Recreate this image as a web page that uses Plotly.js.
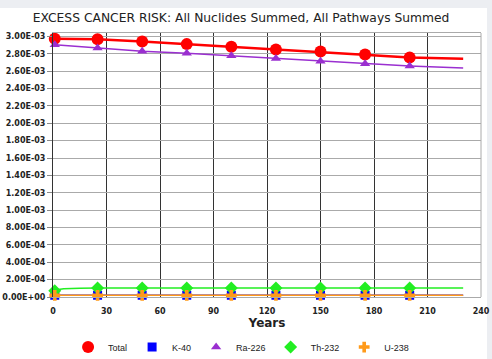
<!DOCTYPE html>
<html>
<head>
<meta charset="utf-8">
<script src="https://cdn.plot.ly/plotly-3.0.1.min.js"></script>
<style>
  html, body { margin: 0; padding: 0; background: #eceef2; width: 492px; height: 359px; overflow: hidden; }
  #bg { position: absolute; left: 0; top: 8px; width: 487px; height: 351px; background: #fff; }
  #chart { position: absolute; left: 0; top: 8px; width: 492px; height: 351px; }
</style>
</head>
<body>
<div id="bg"></div>
<div id="chart"></div>
<script>
// Years at which values are read
const yearsTotal = [1, 25, 50, 75, 100, 125, 150, 175, 200, 230];
const total      = [2.975e-3, 2.969e-3, 2.943e-3, 2.912e-3, 2.882e-3, 2.851e-3, 2.826e-3, 2.793e-3, 2.759e-3, 2.744e-3];

const yearsRa = [1, 25, 50, 75, 100, 125, 150, 175, 200, 230];
const ra226   = [2.905e-3, 2.866e-3, 2.831e-3, 2.808e-3, 2.778e-3, 2.747e-3, 2.716e-3, 2.685e-3, 2.659e-3, 2.636e-3];

const yearsTh = [1, 3, 6, 10, 15, 25, 50, 75, 100, 125, 150, 175, 200, 230];
const th232   = [7.2e-5, 8.6e-5, 9.5e-5, 1.0e-4, 1.02e-4, 1.04e-4, 1.05e-4, 1.05e-4, 1.05e-4, 1.05e-4, 1.05e-4, 1.05e-4, 1.05e-4, 1.05e-4];

const yearsK = [1, 25, 50, 75, 100, 125, 150, 175, 200, 230];
const k40    = [2.0e-5, 2.0e-5, 2.0e-5, 2.0e-5, 2.0e-5, 2.0e-5, 2.0e-5, 2.0e-5, 2.0e-5, 2.0e-5];

const yearsU = [1, 25, 50, 75, 100, 125, 150, 175, 200, 230];
const u238   = [1.9e-5, 1.9e-5, 1.9e-5, 1.9e-5, 1.9e-5, 1.9e-5, 1.9e-5, 1.9e-5, 1.9e-5, 1.9e-5];

// Years that carry a marker
const markerYears = [1, 25, 50, 75, 100, 125, 150, 175, 200];

const yTickVals = [0, 2e-4, 4e-4, 6e-4, 8e-4, 1e-3, 1.2e-3, 1.4e-3, 1.6e-3, 1.8e-3, 2e-3, 2.2e-3, 2.4e-3, 2.6e-3, 2.8e-3, 3e-3];
const yTickText = ["0.00E+00","2.00E-04","4.00E-04","6.00E-04","8.00E-04","1.00E-03","1.20E-03","1.40E-03","1.60E-03","1.80E-03","2.00E-03","2.20E-03","2.40E-03","2.60E-03","2.80E-03","3.00E-03"];
const xTickVals = [0, 30, 60, 90, 120, 150, 180, 210, 240];

const series = [
  {name: "Total",  x: yearsTotal, y: total, color: "#ff0000", width: 2.5, symbol: "circle", size: 12},
  {name: "K-40",   x: yearsK,  y: k40,   color: "#0000ff", width: 1.5, symbol: "square", size: 9},
  {name: "Ra-226", x: yearsRa, y: ra226, color: "#9a2fd0", width: 1.5, symbol: "triangle-up", size: 9},
  {name: "Th-232", x: yearsTh, y: th232, color: "#22ee22", width: 1.5, symbol: "diamond", size: 10},
  {name: "U-238",  x: yearsU,  y: u238,  color: "#ff9a1a", width: 1.5, symbol: "cross", size: 9}
];

const traces = [];
series.forEach(s => {
  traces.push({
    type: "scatter", mode: "lines", x: s.x, y: s.y, name: s.name,
    line: {color: s.color, width: s.width}, showlegend: false, hoverinfo: "skip",
    cliponaxis: false
  });
});
series.forEach(s => {
  const mx = [], my = [];
  s.x.forEach((xv, i) => { if (markerYears.indexOf(xv) >= 0) { mx.push(xv); my.push(s.y[i]); } });
  traces.push({
    type: "scatter", mode: "markers", x: mx, y: my, name: s.name,
    marker: {color: s.color, symbol: s.symbol, size: s.size, line: {width: 0}},
    showlegend: true, cliponaxis: false
  });
});

const layout = {
  width: 492, height: 351,
  margin: {l: 53, r: 11, t: 25, b: 62},
  paper_bgcolor: "rgba(0,0,0,0)", plot_bgcolor: "#ffffff",
  font: {family: "DejaVu Sans, Verdana, sans-serif", color: "#222"},
  title: {
    text: "EXCESS CANCER RISK: All Nuclides Summed, All Pathways Summed",
    font: {size: 12.3, color: "#222"},
    x: 0.49, xref: "container", xanchor: "center",
    y: 0.972, yref: "container", yanchor: "middle"
  },
  xaxis: {
    range: [0, 240], tickvals: xTickVals, ticktext: xTickVals.map(String),
    showgrid: true, gridcolor: "#333", gridwidth: 1,
    zeroline: false, showline: true, linecolor: "#aaa", mirror: true,
    ticks: "outside", ticklen: 6, tickcolor: "rgba(0,0,0,0)",
    tickfont: {size: 8, weight: "bold", color: "#222"},
    title: {text: "Years", font: {size: 12, weight: "bold", color: "#222"}, standoff: 2}
  },
  yaxis: {
    range: [0, 3.04e-3], tickvals: yTickVals, ticktext: yTickText,
    showgrid: true, gridcolor: "#aaa", gridwidth: 1,
    zeroline: false, showline: true, linecolor: "#333",
    ticks: "outside", ticklen: 5, tickcolor: "#888",
    tickfont: {size: 8, weight: "bold", color: "#222"}
  },
  shapes: [
    {type: "line", xref: "paper", yref: "paper", x0: 1, x1: 1, y0: 0, y1: 1, line: {color: "#aaa", width: 1}, layer: "above"}
  ],
  legend: {
    orientation: "h", xref: "container", x: 0.49, xanchor: "center",
    yref: "container", y: 0.034, yanchor: "middle",
    font: {size: 9, family: "Liberation Sans, Arial, sans-serif", color: "#222"},
    itemwidth: 30, tracegroupgap: 0
  },
  showlegend: true
};

Plotly.newPlot("chart", traces, layout, {displayModeBar: false, staticPlot: true});
</script>
</body>
</html>
